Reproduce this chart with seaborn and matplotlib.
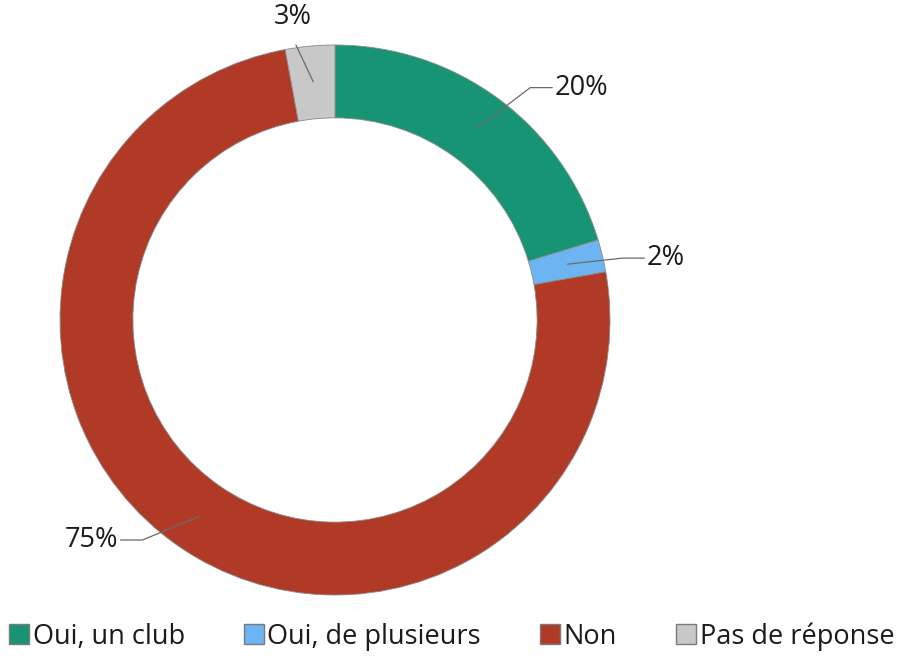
import numpy as np
import matplotlib
matplotlib.use("Agg")
import matplotlib.pyplot as plt
from matplotlib.lines import Line2D
import seaborn as sns

sns.set_theme(style="white")
plt.rcParams['font.family'] = ['Open Sans', 'DejaVu Sans']

# data
categories = ["Oui, un club", "Oui, de plusieurs", "Non", "Pas de réponse"]
values = [20.3, 1.9, 74.9, 2.9]
labels = ["20%", "2%", "75%", "3%"]
colors = ["#179474", "#6DB5F2", "#B13A27", "#C8C8C8"]

# label text positions (data coords, radius = 1)
text_pos = [(0.80, 0.845), (1.135, 0.225), (-0.79, -0.80), (-0.152, 1.10)]
text_ha = ["left", "left", "right", "center"]

fig = plt.figure(figsize=(8.99, 6.67), dpi=100)
ax = fig.add_axes([60 / 899, (667 - 595) / 667, 550 / 899, 550 / 667])

wedges, _ = ax.pie(values, colors=colors, startangle=90, counterclock=False,
                   radius=1, wedgeprops=dict(width=0.265, edgecolor="#8a8a8a", linewidth=0.6))
ax.set_xlim(-1, 1)
ax.set_ylim(-1, 1)
ax.set_aspect('equal')
ax.axis('off')

# leader lines and labels
for w, lab, tp, ha in zip(wedges, labels, text_pos, text_ha):
    mid = np.deg2rad((w.theta1 + w.theta2) / 2)
    anchor = (0.87 * np.cos(mid), 0.87 * np.sin(mid))
    if ha == "left":
        elbow = (tp[0] - 0.09, tp[1])
        end = (tp[0] - 0.01, tp[1])
    elif ha == "right":
        elbow = (tp[0] + 0.09, tp[1])
        end = (tp[0] + 0.01, tp[1])
    else:
        elbow = (tp[0] + 0.01, tp[1] - 0.1)
        end = elbow
    ax.plot([anchor[0], elbow[0], end[0]], [anchor[1], elbow[1], end[1]],
            color="#6a6a6a", lw=0.9, clip_on=False)
    ax.text(tp[0], tp[1], lab, ha=ha, va="center", fontsize=19.5,
            color="#1a1a1a", clip_on=False)

# legend
handles = [Line2D([0], [0], marker='s', color='w', markerfacecolor=c, markeredgecolor="#7a7a7a",
                  markersize=14, linestyle='') for c in colors]
fig.legend(handles, categories, loc="lower center", bbox_to_anchor=(0.502, -0.012), ncol=4,
           frameon=False, fontsize=19.5, handletextpad=0.1, columnspacing=2.15,
           handlelength=0.8, labelcolor="#1a1a1a")

plt.savefig("out.png", dpi=100)
